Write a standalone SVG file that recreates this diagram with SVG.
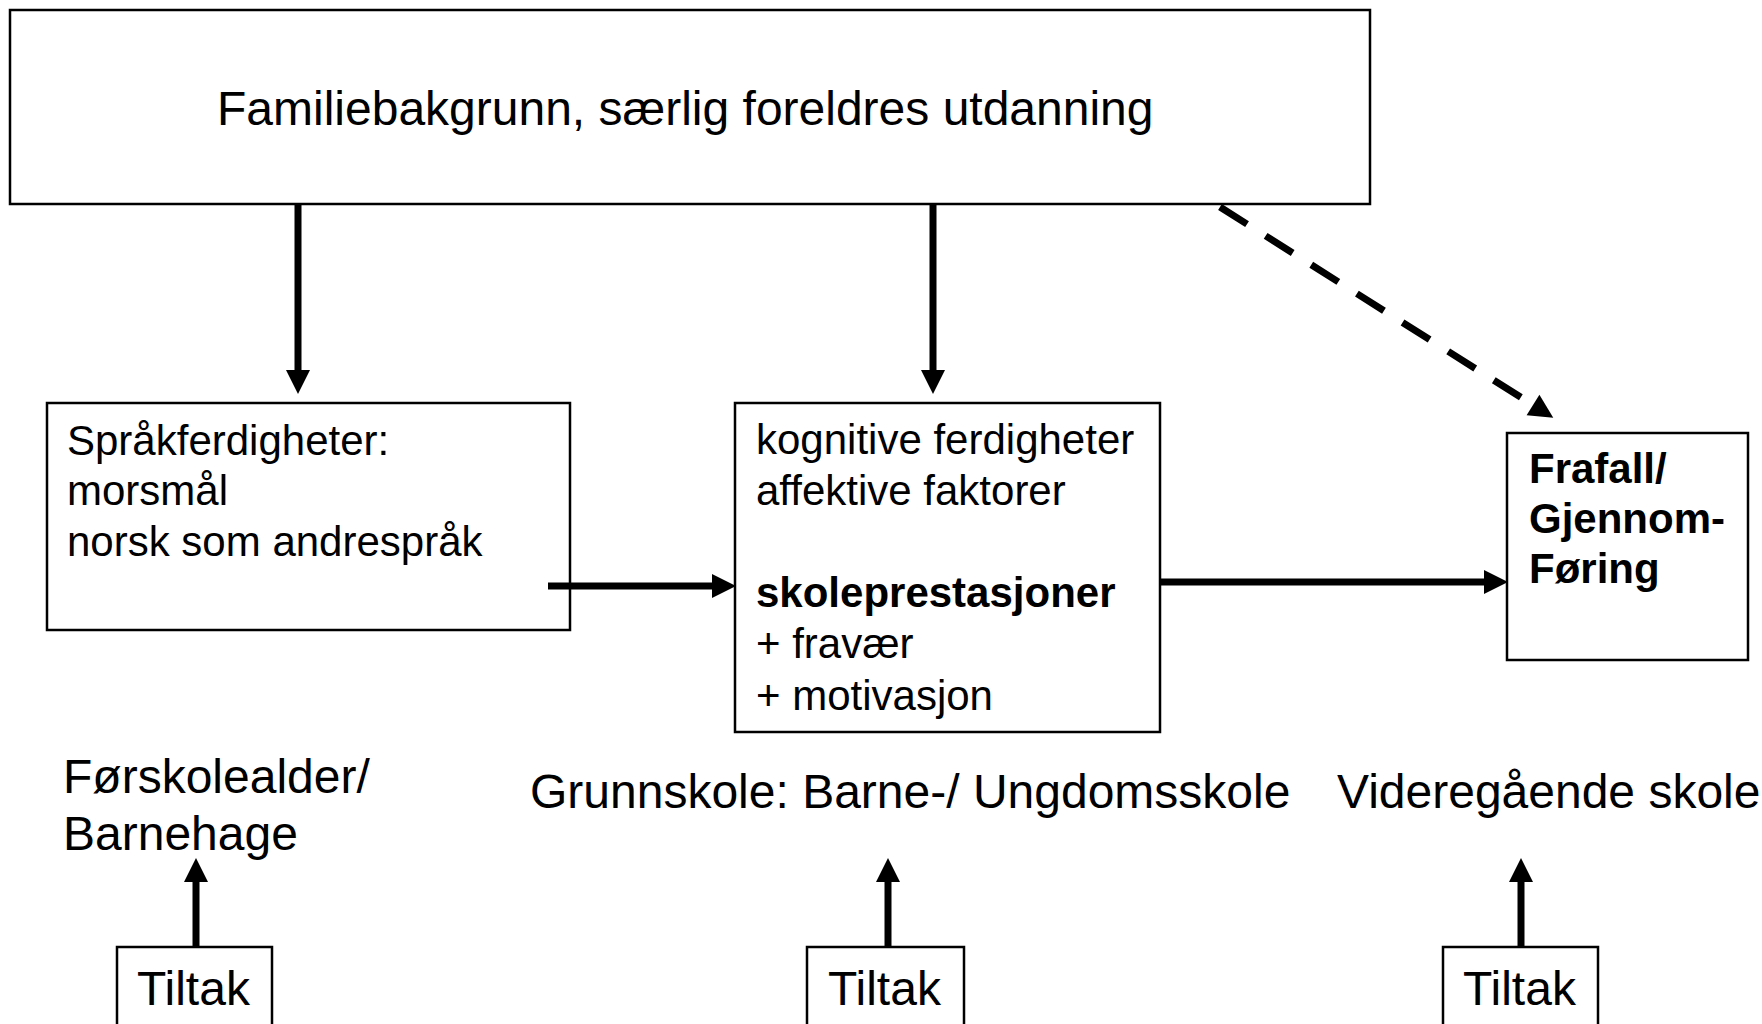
<svg xmlns="http://www.w3.org/2000/svg" width="1762" height="1024" viewBox="0 0 1762 1024">
  <style>
    .box { fill: #ffffff; stroke: #000000; stroke-width: 2.5; }
    .conn { fill: none; stroke: #000000; stroke-width: 7; }
    .dash { stroke-dasharray: 32 22; }
    .t42 { font-family: "Liberation Sans", Arial, sans-serif; font-size: 42px; fill: #000000; }
    .t48 { font-family: "Liberation Sans", Arial, sans-serif; font-size: 48px; fill: #000000; }
    .b { font-weight: bold; }
  </style>
  <defs>
    <marker id="ah" markerUnits="userSpaceOnUse" markerWidth="24" markerHeight="24" refX="0" refY="12" orient="auto" overflow="visible">
      <path d="M0,0 L24,12 L0,24 z" fill="#000000"/>
    </marker>
  </defs>
  <rect x="0" y="0" width="1762" height="1024" fill="#ffffff"/>

  <g id="familie">
    <rect class="box" x="10" y="10" width="1360" height="194"/>
    <text class="t48" x="217" y="125">Familiebakgrunn, særlig foreldres utdanning</text>
  </g>

  <g id="sprak">
    <rect class="box" x="47" y="403" width="523" height="227"/>
    <text class="t42" x="67" y="455">Språkferdigheter:</text>
    <text class="t42" x="67" y="505">morsmål</text>
    <text class="t42" x="67" y="556">norsk som andrespråk</text>
  </g>

  <g id="kognitiv">
    <rect class="box" x="735" y="403" width="425" height="329"/>
    <text class="t42" x="756" y="454">kognitive ferdigheter</text>
    <text class="t42" x="756" y="505">affektive faktorer</text>
    <text class="t42 b" x="756" y="607">skoleprestasjoner</text>
    <text class="t42" x="756" y="658">+ fravær</text>
    <text class="t42" x="756" y="710">+ motivasjon</text>
  </g>

  <g id="frafall">
    <rect class="box" x="1507" y="433" width="241" height="227"/>
    <text class="t42 b" x="1529" y="483">Frafall/</text>
    <text class="t42 b" x="1529" y="533">Gjennom-</text>
    <text class="t42 b" x="1529" y="583">Føring</text>
  </g>

  <g id="label-forskole">
    <text class="t48" x="63" y="793">Førskolealder/</text>
    <text class="t48" x="63" y="850">Barnehage</text>
  </g>
  <g id="label-grunnskole">
    <text class="t48" x="530" y="808">Grunnskole: Barne-/ Ungdomsskole</text>
  </g>
  <g id="label-vgs">
    <text class="t48" x="1337" y="808">Videregående skole</text>
  </g>

  <g id="tiltak1">
    <rect class="box" x="117" y="947" width="155" height="100"/>
    <text class="t48" x="137" y="1005">Tiltak</text>
  </g>
  <g id="tiltak2">
    <rect class="box" x="807" y="947" width="157" height="100"/>
    <text class="t48" x="828" y="1005">Tiltak</text>
  </g>
  <g id="tiltak3">
    <rect class="box" x="1443" y="947" width="155" height="100"/>
    <text class="t48" x="1463" y="1005">Tiltak</text>
  </g>

  <g id="connectors">
    <line class="conn" x1="298" y1="204" x2="298" y2="370" marker-end="url(#ah)"/>
    <line class="conn" x1="933" y1="204" x2="933" y2="370" marker-end="url(#ah)"/>
    <line class="conn dash" x1="1220" y1="207" x2="1533" y2="405" marker-end="url(#ah)"/>
    <line class="conn" x1="548" y1="586" x2="712" y2="586" marker-end="url(#ah)"/>
    <line class="conn" x1="1160" y1="582" x2="1484" y2="582" marker-end="url(#ah)"/>
    <line class="conn" x1="196" y1="947" x2="196" y2="882" marker-end="url(#ah)"/>
    <line class="conn" x1="888" y1="947" x2="888" y2="882" marker-end="url(#ah)"/>
    <line class="conn" x1="1521" y1="947" x2="1521" y2="882" marker-end="url(#ah)"/>
  </g>
</svg>
